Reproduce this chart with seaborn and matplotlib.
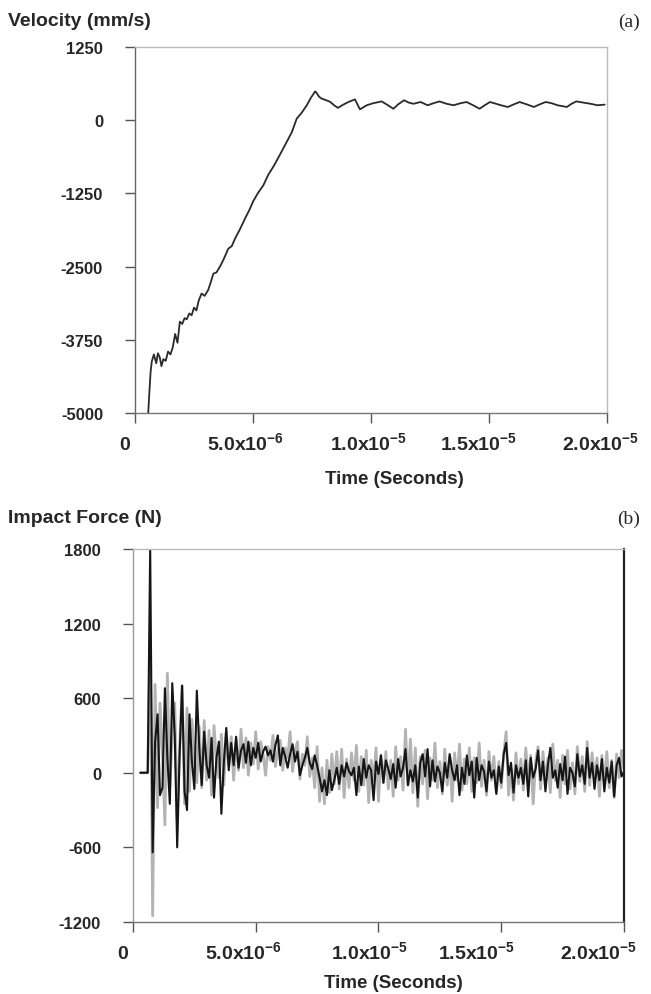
import numpy as np
import pandas as pd
import matplotlib
matplotlib.use('Agg')
import matplotlib.pyplot as plt
import matplotlib.transforms as mtransforms
import seaborn as sns

# (a) velocity trace, time in microseconds
vel_t_us = [0.56, 0.60, 0.66, 0.71, 0.80, 0.90, 0.97, 1.05, 1.12, 1.20,
            1.30, 1.40, 1.50, 1.60, 1.70, 1.80, 1.90, 2.00, 2.10, 2.19,
            2.30, 2.40, 2.50, 2.60, 2.70, 2.82, 2.95, 3.10, 3.20, 3.32,
            3.45, 3.60, 3.75, 3.95, 4.10, 4.24, 4.45, 4.66, 4.85, 5.00,
            5.20, 5.44, 5.65, 5.86, 6.10, 6.43, 6.65, 6.85, 7.05, 7.28,
            7.45, 7.63, 7.67, 7.80, 7.90, 8.10, 8.26, 8.45, 8.60, 8.80,
            9.04, 9.32, 9.53, 9.82, 10.10, 10.45, 10.70, 10.95, 11.15, 11.40,
            11.60, 11.80, 12.10, 12.40, 12.65, 12.90, 13.20, 13.50, 13.80, 14.05,
            14.30, 14.60, 14.80, 15.04, 15.30, 15.50, 15.80, 16.05, 16.30, 16.60,
            16.90, 17.15, 17.40, 17.65, 17.90, 18.10, 18.30, 18.50, 18.70, 19.00,
            19.30, 19.60, 19.90]
velocity = [-5000, -4700, -4300, -4120, -4000, -4150, -3980, -4050, -4200, -4080,
            -4110, -3950, -4000, -3880, -3650, -3800, -3440, -3480, -3380, -3400,
            -3300, -3330, -3200, -3250, -3080, -2960, -3000, -2900, -2780, -2620,
            -2600, -2500, -2380, -2195, -2150, -2020, -1860, -1680, -1530, -1390,
            -1250, -1110, -930, -795, -620, -370, -200, 25, 120, 255,
            380, 490, 480, 400, 370, 340, 315, 250, 210, 260,
            310, 355, 185, 255, 290, 320, 260, 195, 270, 340,
            300, 280, 310, 255, 290, 320, 280, 255, 290, 310,
            260, 195, 250, 310, 280, 255, 225, 270, 310, 270,
            225, 270, 310, 290, 255, 240, 225, 280, 320, 300,
            280, 255, 265]

# (b) impact force, two overlaid traces, one reading every 0.1 us from 0.3 us
force_t0_us = 0.3
force_step_us = 0.1
force_dark = [0, 0, 0, 0, 1800, -640, 250, 470, -180, -120,
              680, 120, -250, 720, 300, -600, 150, 700, -150, -300,
              470, 90, -130, 660, 200, -100, 330, 60, -40, 280,
              -200, 120, 250, -330, 80, 360, 20, 240, 60, 290,
              40, 180, 230, 80, 250, 60, 200, 120, 240, 90,
              170, 210, 140, 180, 90, 220, 300, 60, 200, 130,
              40, 150, 230, 90, 170, -20, 60, 120, 200, 80,
              30, 140, 60, -40, -150, -60, -180, 20, -140, -60,
              40, -90, 60, -30, 80, 10, -20, 40, -180, 50,
              -100, 110, -40, 60, 20, -220, 90, -10, 140, -80,
              100, 30, -50, 70, -120, 110, -30, 40, 190, -100,
              20, -70, 60, -200, 80, 150, -30, 190, -110, 100,
              -70, 50, 0, -150, 80, -40, 150, 20, -60, 60,
              -180, 40, -90, 140, -20, 90, -200, 120, -60, 60,
              10, -150, 90, -40, 20, -170, 50, -80, 150, 240,
              -20, 80, -160, 60, -40, 40, -90, 100, -190, 120,
              -40, 30, 180, -60, 90, -150, 60, 200, -40, 20,
              -120, 70, -60, 130, -170, 40, 0, -110, 150, -30,
              60, -90, 200, -40, 80, -130, 60, -60, 110, -150,
              40, -80, 90, -190, 60, 120, -30, 10]
force_light = [0, 0, 0, 0, 1130, -1150, 710, -280, 560, 150,
               -420, 800, -120, 300, 560, -380, 200, 700, -250, 520,
               -150, 430, 100, -80, 370, -120, 420, -60, 340, -180,
               380, 100, -40, 310, -100, 330, 60, 290, -60, 260,
               20, 350, 40, 280, -20, 240, 70, 330, 30, 250,
               150, -20, 210, 100, 300, 50, 180, 260, 20, 200,
               120, 330, 10, 170, 250, -50, 150, 60, 290, -30,
               120, -120, 210, -230, 40, -250, 100, -160, 150, -90,
               170, -130, 190, -200, 110, -120, 160, -60, 220, -150,
               130, -100, 180, -240, 100, -60, 200, -230, 140, -80,
               170, -130, 100, -190, 210, -60, 130, -140, 350, -100,
               270, -160, 200, -270, 130, -90, 180, -210, 120, -60,
               240, -120, 90, -170, 190, -100, 130, -230, 160, -60,
               230, -140, 110, -90, 200, -150, 120, -80, 240, -110,
               100, -180, 170, -60, 130, -160, 90, -120, 150, 330,
               -180, 30, -220, 160, -90, 110, -140, 200, -70, 140,
               -250, 90, 210, -130, 170, -80, 120, -160, 230, -60,
               100, -200, 140, -90, 180, -130, 80, -170, 210, -70,
               130, -150, 250, -100, 160, -60, 120, -190, 140, -80,
               170, -120, 100, -200, 150, -40, 180, 30]

x_ticks = [0, 5e-6, 1e-5, 1.5e-5, 2e-5]
x_ticklabels = ['0', '5.0x10$^{-6}$', '1.0x10$^{-5}$', '1.5x10$^{-5}$', '2.0x10$^{-5}$']
vel_ticks = [1250, 0, -1250, -2500, -3750, -5000]
force_ticks = [1800, 1200, 600, 0, -600, -1200]

vel_df = pd.DataFrame({'t': np.array(vel_t_us) * 1e-6, 'v': velocity})
dark_df = pd.DataFrame({'t': (force_t0_us + force_step_us * np.arange(len(force_dark))) * 1e-6,
                        'f': force_dark})
light_df = pd.DataFrame({'t': (force_t0_us + force_step_us * np.arange(len(force_light))) * 1e-6,
                         'f': force_light})

sns.set_style('white')
plt.rcParams['font.family'] = ['Liberation Sans', 'DejaVu Sans']
plt.rcParams['axes.unicode_minus'] = False
plt.rcParams['mathtext.fontset'] = 'custom'
plt.rcParams['mathtext.rm'] = 'Liberation Sans:bold'
plt.rcParams['mathtext.bf'] = 'Liberation Sans:bold'
plt.rcParams['mathtext.default'] = 'bf'

fig = plt.figure(figsize=(6.51, 9.95), dpi=100)
ax1 = fig.add_axes([0.2074, 0.5839, 0.725, 0.3679])
ax2 = fig.add_axes([0.2043, 0.0724, 0.7542, 0.3749])

sns.lineplot(data=vel_df, x='t', y='v', ax=ax1, color='#2a2a2a', lw=1.3, estimator=None)
sns.lineplot(data=light_df, x='t', y='f', ax=ax2, color='#b3b3b3', lw=2.0, estimator=None)
sns.lineplot(data=dark_df, x='t', y='f', ax=ax2, color='#151515', lw=1.5, estimator=None)


def shift(label, dx_px):
    label.set_transform(label.get_transform()
                        + mtransforms.ScaledTranslation(dx_px / 100, 0, fig.dpi_scale_trans))


setup = [(ax1, vel_ticks, (-5000, 1250), (0.549, -0.155), [-10, -8, -2, -10, -6]),
         (ax2, force_ticks, (-1200, 1800), (0.53, -0.14), [-10, -12, -9, -25, -25])]
for ax, yt, ylim, lab_xy, dxs in setup:
    ax.set_xlim(0, 2e-5)
    ax.set_ylim(*ylim)
    ax.set_xticks(x_ticks)
    ax.set_xticklabels(x_ticklabels)
    ax.set_yticks(yt)
    ax.set_ylabel('')
    ax.set_xlabel('Time (Seconds)', fontsize=13.5, fontweight='bold')
    ax.xaxis.set_label_coords(*lab_xy)
    ax.tick_params(axis='both', direction='out', length=7, width=1, color='#555555',
                   bottom=True, left=True)
    ax.tick_params(axis='x', pad=19, labelsize=14)
    ax.tick_params(axis='y', pad=16, labelsize=12)
    for lab, dx in zip(ax.get_xticklabels(), dxs):
        lab.set_fontweight('bold')
        lab.set_verticalalignment('baseline')
        shift(lab, dx)
    for lab in ax.get_yticklabels():
        lab.set_fontweight('bold')
    ax.spines['left'].set_color('#666666')
    ax.spines['bottom'].set_color('#777777')
    ax.spines['top'].set_color('#bbbbbb')
    ax.spines['right'].set_color('#bbbbbb')
    for s in ax.spines.values():
        s.set_linewidth(1.0)

ax2.spines['left'].set_color('#999999')
ax2.spines['right'].set_color('#222222')
ax2.spines['right'].set_linewidth(1.6)

fig.text(0.012, 0.978, 'Velocity (mm/s)', fontsize=14, fontweight='bold', va='center', ha='left')
fig.text(0.983, 0.978, '(a)', fontsize=14, family='Liberation Serif', va='center', ha='right')
fig.text(0.012, 0.4784, 'Impact Force (N)', fontsize=14, fontweight='bold', va='center', ha='left')
fig.text(0.983, 0.4784, '(b)', fontsize=14, family='Liberation Serif', va='center', ha='right')

fig.savefig('out.png', dpi=100)
